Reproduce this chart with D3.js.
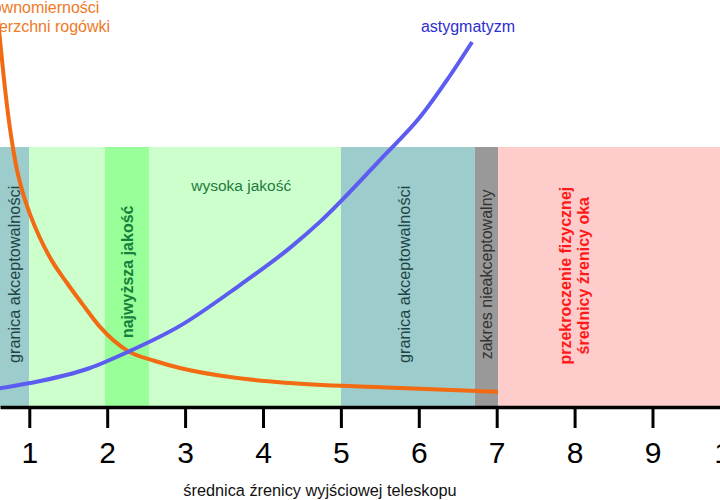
<!DOCTYPE html>
<html>
<head>
<meta charset="utf-8">
<script src="https://cdn.jsdelivr.net/npm/d3@7"></script>
<style>
  html, body { margin: 0; padding: 0; background: #ffffff; }
  svg { display: block; font-family: "Liberation Sans", Arial, Helvetica, sans-serif; }
</style>
</head>
<body>
<svg id="chart" width="720" height="500"></svg>
<script>
// ---- data ----
const tickValues = [1, 2, 3, 4, 5, 6, 7, 8, 9, 10];
const axisTitle = "średnica źrenicy wyjściowej teleskopu";

const bandStarts = [0.5, 1.0, 1.97, 2.54, 5.0, 6.72, 7.02];
const bandEnds   = [1.0, 1.97, 2.54, 5.0, 6.72, 7.02, 10.5];
const bandKinds  = ["edge", "high", "best", "high", "edge", "bad", "over"];

const bandLabels = ["granica akceptowalności", "najwyższa jakość", "wysoka jakość",
                    "granica akceptowalności", "zakres nieakceptowalny",
                    "przekroczenie fizycznej\nśrednicy źrenicy oka"];
const bandLabelX = [0.81, 2.255, 3.72, 5.82, 6.87, 8.0];
const bandLabelY = [5.1, 5.2, 8.5, 5.1, 5.1, 5.05];

const corneaX = [0.585, 0.624, 0.676, 0.727, 0.778, 0.829, 0.906, 1.009, 1.137, 1.291, 1.484, 1.702, 1.908, 2.267, 2.614, 2.934, 3.576, 4.346, 5.758, 7.016];
const corneaY = [15.27, 14.12, 12.58, 11.27, 10.19, 9.31, 8.35, 7.42, 6.5, 5.62, 4.77, 3.88, 3.08, 2.15, 1.77, 1.5, 1.15, 0.92, 0.73, 0.58];

const astigX = [0.58, 1.01, 1.779, 2.267, 2.934, 3.704, 4.346, 4.731, 5.54, 6.016, 6.363, 6.684];
const astigY = [0.70, 0.92, 1.50, 2.12, 3.12, 4.69, 6.12, 7.12, 9.62, 11.15, 12.58, 14.04];

const corneaLabel = ["nierównomierności", "powierzchni rogówki"];
const astigLabel = "astygmatyzm";

// ---- styles ----
const bandFill = { edge: "#9ccccc", high: "#ccffcc", best: "#99ff99", bad: "#999999", over: "#ffcccc" };
const labelStyle = [
  { fill: "#1f4545", weight: "normal", size: 16.3, rotate: true },
  { fill: "#17803a", weight: "bold",   size: 16,   rotate: true },
  { fill: "#1e7a40", weight: "normal", size: 15.5, rotate: false },
  { fill: "#1f4545", weight: "normal", size: 16.3, rotate: true },
  { fill: "#333333", weight: "normal", size: 16,   rotate: true },
  { fill: "#ff1a1a", weight: "bold",   size: 16,   rotate: true }
];

const W = 720, H = 500;
const svg = d3.select("#chart");

const x = d3.scaleLinear().domain([0.624, 0.624 + 720 / 77.9]).range([0, W]);
const y = d3.scaleLinear().domain([0, 407 / 26]).range([407, 0]);
const bandTop = 10;

// bands
svg.append("g").selectAll("rect")
  .data(bandStarts.map((s, i) => ({ s, e: bandEnds[i], k: bandKinds[i] })))
  .join("rect")
  .attr("x", d => x(d.s))
  .attr("width", d => x(d.e) - x(d.s))
  .attr("y", y(bandTop))
  .attr("height", y(0) - y(bandTop))
  .attr("fill", d => bandFill[d.k]);

// band labels
const lg = svg.append("g");
bandLabels.forEach((txt, i) => {
  const st = labelStyle[i];
  const cx = x(bandLabelX[i]), cy = y(bandLabelY[i]);
  const lines = txt.split("\n");
  const t = lg.append("text")
    .attr("transform", st.rotate ? `translate(${cx},${cy}) rotate(-90)` : `translate(${cx},${cy})`)
    .attr("text-anchor", "middle")
    .attr("font-size", st.size)
    .attr("font-weight", st.weight)
    .attr("fill", st.fill);
  const lh = 18;
  lines.forEach((ln, j) => {
    t.append("tspan")
      .attr("x", 0)
      .attr("y", (j - (lines.length - 1) / 2) * lh)
      .attr("dy", "0.35em")
      .text(ln);
  });
});

// curves
const line = d3.line().x(d => x(d[0])).y(d => y(d[1])).curve(d3.curveMonotoneX);
svg.append("path")
  .attr("d", line(corneaX.map((v, i) => [v, corneaY[i]])))
  .attr("fill", "none").attr("stroke", "#f26a12").attr("stroke-width", 4).attr("stroke-linecap", "butt");
svg.append("path")
  .attr("d", line(astigX.map((v, i) => [v, astigY[i]])))
  .attr("fill", "none").attr("stroke", "#5c5cf0").attr("stroke-width", 4).attr("stroke-linecap", "butt");

// curve labels
const cl = svg.append("text").attr("font-size", 16).attr("fill", "#ee7a26");
corneaLabel.forEach((ln, j) => {
  cl.append("tspan").attr("x", -34).attr("y", 13 + j * 18.5).text(ln);
});
svg.append("text")
  .attr("x", 468).attr("y", 32)
  .attr("text-anchor", "middle")
  .attr("font-size", 16)
  .attr("fill", "#2d2dd2")
  .text(astigLabel);

// axis
const axis = d3.axisBottom(x).tickValues(tickValues).tickSize(21).tickSizeOuter(0).tickPadding(14).tickFormat(d3.format("d"));
const ag = svg.append("g").attr("transform", `translate(0,${y(0)})`).call(axis);
ag.select(".domain").attr("stroke", "#000").attr("stroke-width", 3.5);
ag.selectAll(".tick line").attr("stroke", "#000").attr("stroke-width", 3);
ag.selectAll(".tick text").attr("font-size", 30).attr("fill", "#000")
  .attr("font-family", "'Liberation Sans', Arial, sans-serif");

svg.append("text")
  .attr("x", 320).attr("y", 496)
  .attr("text-anchor", "middle")
  .attr("font-size", 16.3)
  .attr("fill", "#111")
  .text(axisTitle);
</script>
</body>
</html>
